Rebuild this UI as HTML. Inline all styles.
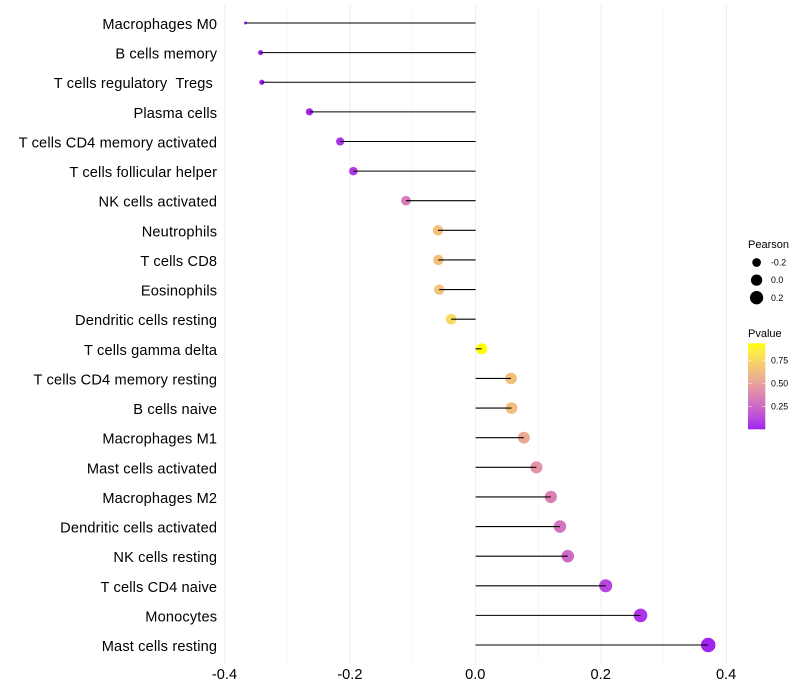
<!DOCTYPE html>
<html lang="en">
<head>
<meta charset="utf-8">
<title>Immune cell correlation lollipop chart</title>
<style>
html,body{margin:0;padding:0;background:#fff;width:800px;height:700px;overflow:hidden}
svg{display:block;font-family:"Liberation Sans",Arial,sans-serif}
text{white-space:pre}
</style>
</head>
<body>
<svg id="chart" xmlns="http://www.w3.org/2000/svg" width="800" height="700" viewBox="0 0 800 700">
<rect width="800" height="700" fill="#fff"/>
<g id="grid"></g>
<g id="points"></g>
<g id="stems"></g>
<g id="ylabels"></g>
<g id="xlabels"></g>
<g id="size-legend">
<text x="748" y="248" font-size="11" fill="#000">Pearson</text>
</g>
<g id="color-legend">
<text x="748" y="337" font-size="11" fill="#000">Pvalue</text>
<defs><linearGradient id="pvalue-gradient" x1="0" y1="1" x2="0" y2="0"></linearGradient></defs>
<rect x="748" y="343.3" width="17.3" height="86" fill="url(#pvalue-gradient)"/>
</g>
</svg>
<script>
const categories = ["Macrophages M0","B cells memory","T cells regulatory  Tregs ","Plasma cells","T cells CD4 memory activated","T cells follicular helper","NK cells activated","Neutrophils","T cells CD8","Eosinophils","Dendritic cells resting","T cells gamma delta","T cells CD4 memory resting","B cells naive","Macrophages M1","Mast cells activated","Macrophages M2","Dendritic cells activated","NK cells resting","T cells CD4 naive","Monocytes","Mast cells resting"];
const pearson = [-0.367,-0.343,-0.341,-0.265,-0.216,-0.195,-0.111,-0.060,-0.0595,-0.058,-0.039,0.0097,0.0565,0.0573,0.077,0.097,0.120,0.1345,0.147,0.2075,0.263,0.371];
const pvalues = [0.001,0.002,0.002,0.02,0.05,0.07,0.33,0.64,0.64,0.65,0.76,0.94,0.64,0.63,0.53,0.44,0.35,0.30,0.25,0.11,0.05,0.005];
const xTicks = [-0.4,-0.2,0,0.2,0.4];
const xTickLabels = ["-0.4","-0.2","0.0","0.2","0.4"];
const xGridValues = [-0.4,-0.3,-0.2,-0.1,0,0.1,0.2,0.3,0.4];
const sizeLegendValues = [-0.2,0,0.2];
const sizeLegendLabels = ["-0.2","0.0","0.2"];
const colorLegendValues = [0.75,0.5,0.25];
const colorLegendLabels = ["0.75","0.50","0.25"];

const NS = "http://www.w3.org/2000/svg";
const xScale = v => 475.6 + v * 627;
const yScale = i => 23 + i * 29.62;
const pMin = Math.min(...pearson), pMax = Math.max(...pearson);
const rScale = v => (3 + 11.5 * Math.sqrt(Math.max(0, (v - pMin) / (pMax - pMin)))) / 2;
const barY = p => 429.3 - p * 92;

function toLab(rgb) {
  const l = rgb.map(c => { c /= 255; return c > 0.04045 ? Math.pow((c + 0.055) / 1.055, 2.4) : c / 12.92; });
  const X = (0.4124 * l[0] + 0.3576 * l[1] + 0.1805 * l[2]) / 0.95047;
  const Y = 0.2126 * l[0] + 0.7152 * l[1] + 0.0722 * l[2];
  const Z = (0.0193 * l[0] + 0.1192 * l[1] + 0.9505 * l[2]) / 1.08883;
  const f = t => t > 0.008856 ? Math.cbrt(t) : 7.787 * t + 16 / 116;
  return [116 * f(Y) - 16, 500 * (f(X) - f(Y)), 200 * (f(Y) - f(Z))];
}
function fromLab(lab) {
  const fy = (lab[0] + 16) / 116, fx = lab[1] / 500 + fy, fz = fy - lab[2] / 200;
  const g = t => t * t * t > 0.008856 ? t * t * t : (t - 16 / 116) / 7.787;
  const X = g(fx) * 0.95047, Y = g(fy), Z = g(fz) * 1.08883;
  const lin = [3.2406 * X - 1.5372 * Y - 0.4986 * Z, -0.9689 * X + 1.8758 * Y + 0.0415 * Z, 0.0557 * X - 0.204 * Y + 1.057 * Z];
  return lin.map(c => {
    c = Math.min(1, Math.max(0, c));
    c = c > 0.0031308 ? 1.055 * Math.pow(c, 1 / 2.4) - 0.055 : 12.92 * c;
    return Math.round(c * 255);
  });
}
const labLow = toLab([160, 32, 240]), labHigh = toLab([255, 255, 0]);
const pDomainMax = 0.935;
function colorScale(p) {
  const t = Math.min(1, Math.max(0, p / pDomainMax));
  const c = fromLab(labLow.map((v, k) => v + (labHigh[k] - v) * t));
  return "rgb(" + c.join(",") + ")";
}
function make(tag, parent, attrs, text) {
  const el = document.createElementNS(NS, tag);
  for (const k in attrs) el.setAttribute(k, attrs[k]);
  if (text !== undefined) el.textContent = text;
  parent.appendChild(el);
  return el;
}

const gridG = document.getElementById("grid");
xGridValues.forEach((v, i) => {
  const major = i % 2 === 0;
  const el = make("line", gridG, {x1: xScale(v), x2: xScale(v), y1: 5, y2: major ? 664 : 662, stroke: major ? "#eeeeee" : "#f3f3f3", "stroke-width": major ? 1.07 : 0.6});
  
  
});

const pointsG = document.getElementById("points");
const stemsG = document.getElementById("stems");
const yG = document.getElementById("ylabels");
categories.forEach((name, i) => {
  const dot = make("circle", pointsG, {cx: xScale(pearson[i]), cy: yScale(i), r: rScale(pearson[i]), fill: colorScale(pvalues[i])});
  
  
  const stem = make("line", stemsG, {x1: xScale(0), x2: xScale(pearson[i]), y1: yScale(i), y2: yScale(i), stroke: "#000", "stroke-width": 1.07});
  
  
  const lab = make("text", yG, {x: 217.2, y: yScale(i) + 6, "text-anchor": "end", "font-size": 14.6, "letter-spacing": 0.15, fill: "#000"}, name);
  
  
});

const xG = document.getElementById("xlabels");
xTicks.forEach((v, i) => {
  const lab = make("text", xG, {x: xScale(v) - 0.3, y: 679, "text-anchor": "middle", "font-size": 14.6, fill: "#000"}, xTickLabels[i]);
  
  
});

const sizeG = document.getElementById("size-legend");
sizeLegendValues.forEach((v, i) => {
  const y = 262.5 + i * 17.6;
  const key = make("circle", sizeG, {cx: 756.6, cy: y, r: rScale(v) + 0.1, fill: "#000"});
  
  
  const lab = make("text", sizeG, {x: 771, y: y + 3.1, "font-size": 8.8, fill: "#000"}, sizeLegendLabels[i]);
  
  
});

const grad = document.getElementById("pvalue-gradient");
for (let s = 0; s <= 20; s++) {
  make("stop", grad, {offset: s / 20, "stop-color": colorScale(pDomainMax * s / 20)});
}
const colorG = document.getElementById("color-legend");
colorLegendValues.forEach((v, i) => {
  const y = barY(v);
  [[748, 751.5], [761.8, 765.3]].forEach(seg => {
    const tick = make("line", colorG, {x1: seg[0], x2: seg[1], y1: y, y2: y, stroke: "#fff", "stroke-width": 0.5});
    
    
  });
  const lab = make("text", colorG, {x: 771, y: y + 3.1, "font-size": 8.8, fill: "#000"}, colorLegendLabels[i]);
  
  
});
</script>
</body>
</html>
